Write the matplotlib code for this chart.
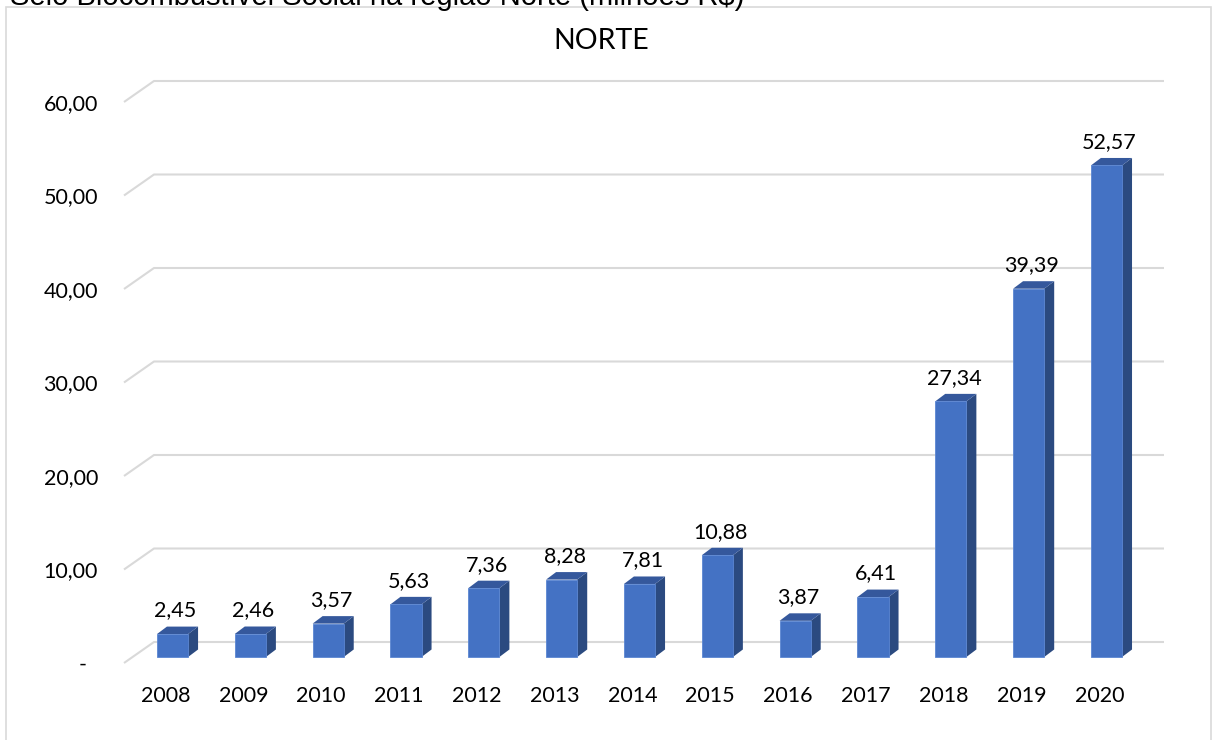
import matplotlib
matplotlib.use("Agg")
import matplotlib.pyplot as plt
from matplotlib.patches import Polygon, Rectangle

# dados
anos = ["2008", "2009", "2010", "2011", "2012", "2013", "2014",
        "2015", "2016", "2017", "2018", "2019", "2020"]
valores = [2.45, 2.46, 3.57, 5.63, 7.36, 8.28, 7.81,
           10.88, 3.87, 6.41, 27.34, 39.39, 52.57]
ticks = [0, 10, 20, 30, 40, 50, 60]
tick_labels = ["-", "10,00", "20,00", "30,00", "40,00", "50,00", "60,00"]
titulo = "NORTE"
titulo_cortado = "Selo Biocombustível Social na região Norte (milhões R$)"

# geometria (pixels)
W, H = 1212, 740
X0, DX = 172.5, 77.83      # centro da 1a barra, passo entre categorias
Y0, PY = 657.0, 9.35       # base das barras, pixels por unidade

fig = plt.figure(figsize=(W / 100, H / 100), dpi=100)
ax = fig.add_axes([0, 0, 1, 1])
ax.set_xlim(-X0 / DX, (W - X0) / DX)
ax.set_ylim((Y0 - H) / PY, Y0 / PY)
ax.axis("off")

fonte = "Lato"
grid_c = "#d9d9d9"
frente, lado, topo = "#4472C4", "#2B4A80", "#35589C"

# profundidade da parede / barras em unidades de dados
parede_dy = 15 / PY
frente_dy = -6 / PY
x_parede0 = (154 - X0) / DX
x_parede1 = (1164 - X0) / DX
x_frente = (124 - X0) / DX
bw = 0.2
bdx, bdy = 10 / DX, 7.5 / PY

# grade
for t, lab in zip(ticks, tick_labels):
    ax.plot([x_frente, x_parede0, x_parede1],
            [t + frente_dy, t + parede_dy, t + parede_dy],
            color=grid_c, lw=1.5, solid_capstyle="butt", zorder=1)
    xr = 98 if lab != "-" else 87
    ax.text((xr - X0) / DX, t + frente_dy - 8 / PY, lab,
            ha="right", va="baseline", fontsize=15.5, family=fonte,
            color="#000000")

# barras 3D
for i, v in enumerate(valores):
    ax.add_patch(Polygon([(i + bw, 0), (i + bw + bdx, bdy),
                          (i + bw + bdx, v + bdy), (i + bw, v)],
                         closed=True, facecolor=lado, edgecolor="none", zorder=3))
    ax.add_patch(Polygon([(i - bw, v), (i + bw, v),
                          (i + bw + bdx, v + bdy), (i - bw + bdx, v + bdy)],
                         closed=True, facecolor=topo, edgecolor="none", zorder=3))
    ax.add_patch(Rectangle((i - bw, 0), 2 * bw, v, facecolor=frente,
                           edgecolor="#5b86d2", lw=0.6, zorder=4))
    ax.annotate(f"{v:.2f}".replace(".", ","), (i + 0.04, v + bdy),
                xytext=(0, 7.2), textcoords="offset points",
                ha="center", va="baseline", fontsize=15.5, family=fonte)
    ax.text(i - 0.09, (Y0 - 701.5) / PY, anos[i], ha="center", va="baseline",
            fontsize=15.5, family=fonte)

# títulos
ax.text((601 - X0) / DX, (Y0 - 49) / PY, titulo, ha="center", va="baseline",
        fontsize=20.5, family=fonte)
fig.text(10 / W, 1 - 5 / H, titulo_cortado, ha="left", va="baseline",
         fontsize=21, family="Liberation Sans")

# moldura do gráfico
fig.patches.append(Rectangle((6 / W, -0.05), (1211 - 6) / W, 1.05 - 7.5 / H,
                             transform=fig.transFigure, fill=False,
                             edgecolor=grid_c, lw=1.2))

fig.savefig("out.png", dpi=100)
